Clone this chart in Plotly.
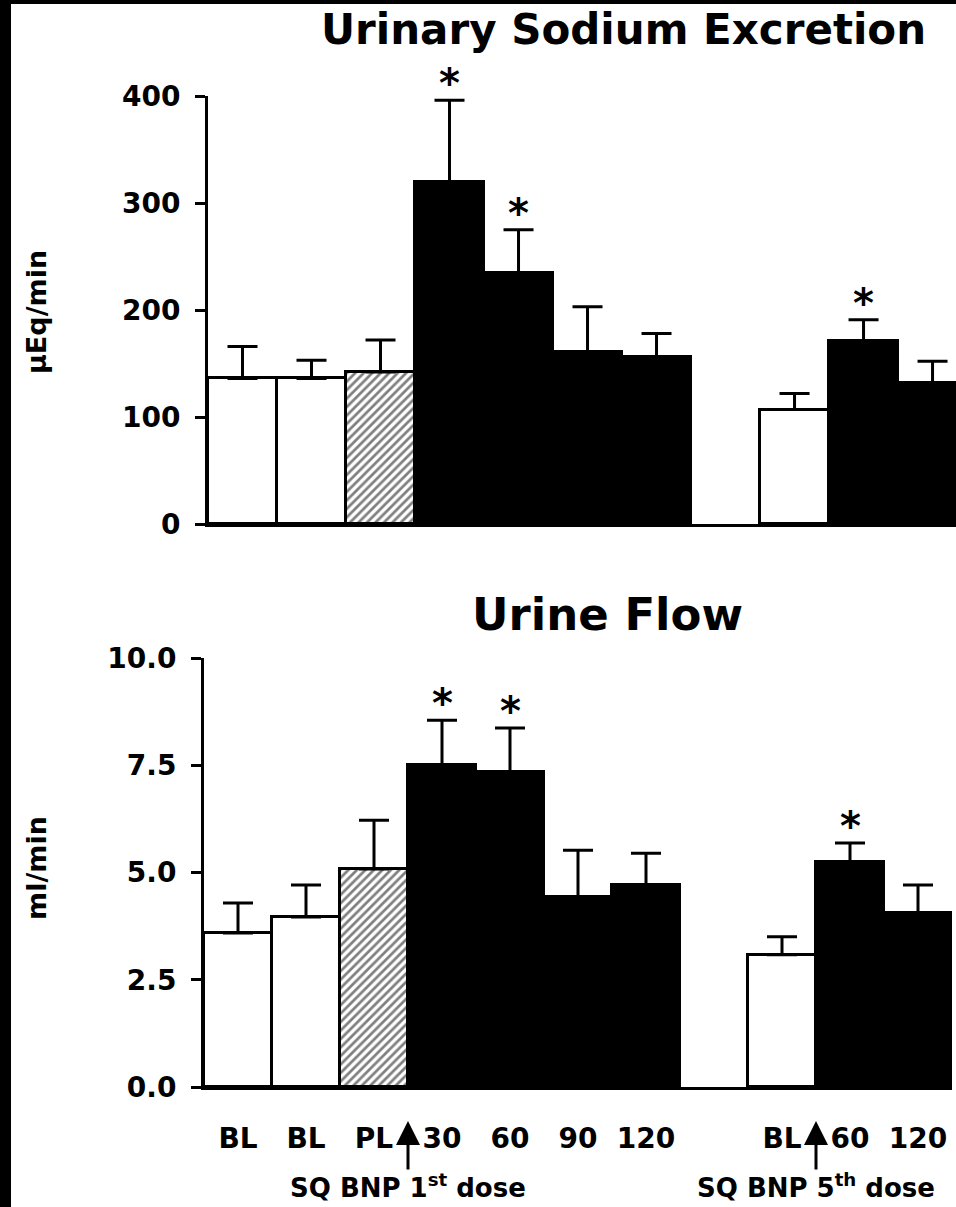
import plotly.graph_objects as go

# ---------------- data ----------------
labels = ["BL", "BL", "PL", "30", "60", "90", "120", "BL", "60", "120"]
group = [1, 1, 1, 1, 1, 1, 1, 2, 2, 2]          # 1st dose block / 5th dose block
kind = ["base", "base", "placebo", "bnp", "bnp", "bnp", "bnp", "base", "bnp", "bnp"]
significant = [False, False, False, True, True, False, False, False, True, False]

sodium = [136, 136, 142, 320, 235, 161, 156, 107, 171, 132]        # µEq/min
sodium_se = [30, 17, 30, 76, 40, 42, 22, 15, 20, 20]

flow = [3.59, 3.96, 5.08, 7.50, 7.34, 4.43, 4.71, 3.08, 5.24, 4.06]  # ml/min
flow_se = [0.70, 0.75, 1.14, 1.05, 1.03, 1.09, 0.74, 0.42, 0.45, 0.65]

sodium_ticks = [0, 100, 200, 300, 400]
flow_ticks = [0.0, 2.5, 5.0, 7.5, 10.0]

# ---------------- helpers ----------------
W, H = 956, 1207
FONT = "DejaVu Sans"

# x positions: one empty slot between the two blocks
pos = [i + (1 if g == 2 else 0) for i, g in enumerate(group)]
dose1_x = pos[2] + 0.5
dose5_x = pos[7] + 0.5

styles = {
    "base": dict(color="white"),
    "placebo": dict(color="white",
                    pattern=dict(shape="/", fgcolor="black", bgcolor="white",
                                 size=6, solidity=0.45, fillmode="overlay")),
    "bnp": dict(color="black"),
}


def px_x(p):
    return p / W


def px_y(p):
    return 1 - p / H


fig = go.Figure()
for vals, errs, xa, ya in [(sodium, sodium_se, "x", "y"), (flow, flow_se, "x2", "y2")]:
    for k, st in styles.items():
        idx = [i for i, kk in enumerate(kind) if kk == k]
        fig.add_trace(go.Bar(
            x=[pos[i] for i in idx], y=[vals[i] for i in idx], width=1.0,
            marker=dict(line=dict(color="black", width=3), **st),
            error_y=dict(type="data", array=[errs[i] for i in idx],
                         arrayminus=[0] * len(idx), symmetric=False,
                         color="black", thickness=3, width=15),
            xaxis=xa, yaxis=ya, showlegend=False, hoverinfo="skip",
        ))

tickfont = dict(family=FONT, size=28, color="black", weight="bold")
axis_common = dict(showline=True, linecolor="black", linewidth=3, showgrid=False,
                   zeroline=False, mirror=False, automargin=False)

fig.update_layout(
    width=W, height=H,
    margin=dict(l=0, r=0, t=0, b=0, pad=0, autoexpand=False),
    paper_bgcolor="white", plot_bgcolor="white",
    barmode="overlay", bargap=0, hovermode=False,
    xaxis=dict(domain=[px_x(208), 1.0], range=[-0.5, 10.34], anchor="y",
               showticklabels=False, ticks="", **axis_common),
    yaxis=dict(domain=[px_y(524), px_y(96)], range=[0, 400], anchor="x",
               tickvals=sodium_ticks, ticks="outside", ticklen=10, tickwidth=3,
               tickcolor="black", tickfont=tickfont, ticklabelstandoff=9,
               **axis_common),
    xaxis2=dict(domain=[px_x(204), px_x(952)], range=[-0.5, 10.5], anchor="y2",
                tickvals=pos, ticktext=labels, ticks="", tickfont=tickfont,
                ticklabelstandoff=24, **axis_common),
    yaxis2=dict(domain=[px_y(1087), px_y(658)], range=[0, 10], anchor="x2",
                tickvals=flow_ticks, tickformat=".1f", ticks="outside", ticklen=10,
                tickwidth=3, tickcolor="black", tickfont=tickfont,
                ticklabelstandoff=9, **axis_common),
)

ann = []
ann.append(dict(text="Urinary Sodium Excretion", x=px_x(623), y=px_y(30),
                xref="paper", yref="paper", showarrow=False,
                xanchor="center", yanchor="middle",
                font=dict(family=FONT, size=42, color="black", weight="bold")))
ann.append(dict(text="Urine Flow", x=px_x(607), y=px_y(614),
                xref="paper", yref="paper", showarrow=False,
                xanchor="center", yanchor="middle",
                font=dict(family=FONT, size=45, color="black", weight="bold")))
# y-axis titles
ylab_font = dict(family=FONT, size=27, color="black", weight="bold")
ann.append(dict(text="µEq/min", x=px_x(36), y=px_y(312), textangle=-90,
                xref="paper", yref="paper", showarrow=False,
                xanchor="center", yanchor="middle", font=ylab_font))
ann.append(dict(text="ml/min", x=px_x(36), y=px_y(868), textangle=-90,
                xref="paper", yref="paper", showarrow=False,
                xanchor="center", yanchor="middle", font=ylab_font))
# significance asterisks
for vals, errs, xr, yr in [(sodium, sodium_se, "x", "y"), (flow, flow_se, "x2", "y2")]:
    for p, v, e, s in zip(pos, vals, errs, significant):
        if s:
            ann.append(dict(text="*", x=p, y=v + e, xref=xr, yref=yr,
                            showarrow=False, xanchor="center", yanchor="bottom",
                            yshift=-8,
                            font=dict(family=FONT, size=40, color="black",
                                      weight="bold")))
# dose arrows and labels
for dx, txt in [(dose1_x, "SQ BNP 1<sup>st</sup> dose"), (dose5_x, "SQ BNP 5<sup>th</sup> dose")]:
    ann.append(dict(text="", x=dx, y=px_y(1121), xref="x2", yref="paper",
                    showarrow=True, arrowhead=2, arrowsize=1.6, arrowwidth=3,
                    arrowcolor="black", ax=0, ay=50))
    ann.append(dict(text=txt, x=dx, y=px_y(1186), xref="x2", yref="paper",
                    showarrow=False, xanchor="center", yanchor="middle",
                    font=dict(family=FONT, size=26, color="black", weight="bold")))
fig.update_layout(annotations=ann)

# scan border (black strips at left and top edges)
fig.add_shape(type="rect", xref="paper", yref="paper", x0=0, x1=px_x(11), y0=0, y1=1,
              fillcolor="black", line=dict(width=0), layer="above")
fig.add_shape(type="rect", xref="paper", yref="paper", x0=0, x1=1, y0=px_y(4), y1=1,
              fillcolor="black", line=dict(width=0), layer="above")

fig.write_html("out.html", config={"displayModeBar": False})
